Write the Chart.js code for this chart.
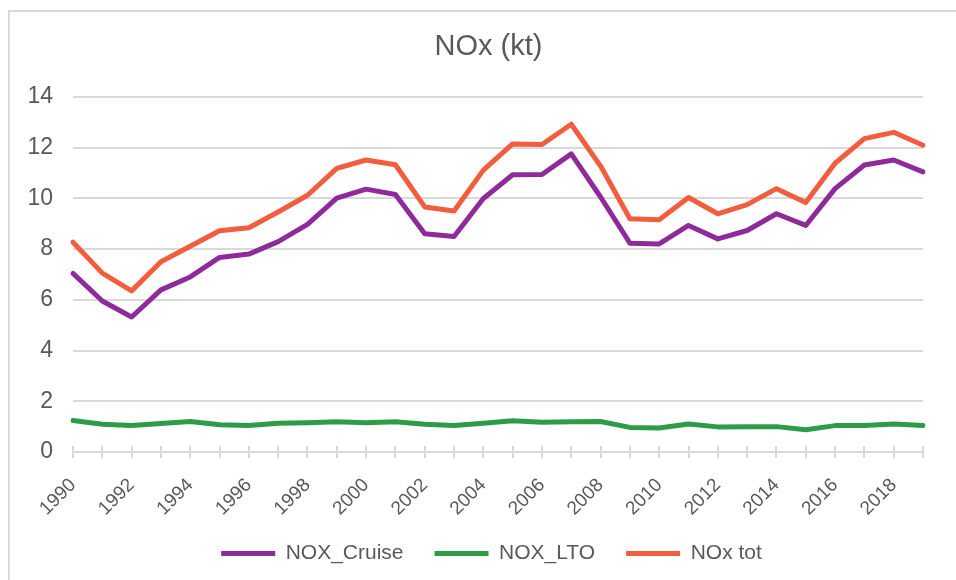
<!DOCTYPE html>
<html>
<head>
<meta charset="utf-8">
<title>NOx (kt)</title>
<script src="https://cdn.jsdelivr.net/npm/chart.js@4.4.1/dist/chart.umd.min.js"></script>
<style>
    html, body { margin: 0; padding: 0; background: #fff; }
    #wrap { position: relative; width: 956px; height: 580px; overflow: hidden; }
    #frame {
        position: absolute; left: 8px; top: 10px; width: 1000px; height: 1000px;
        border-top: 2px solid #d9d9d9; border-left: 2px solid #d9d9d9;
        box-sizing: border-box; pointer-events: none;
    }
    #emissions { position: absolute; left: 0; top: 0; }
</style>
</head>
<body>
<div id="wrap">
    <div id="frame"></div>
    <canvas id="emissions" width="956" height="580"></canvas>
</div>
<script>
    // Yearly series, kt
    const years = [];
    for (let y = 1990; y <= 2019; y++) years.push(String(y));

    const noxCruise = [7.04, 5.95, 5.32, 6.39, 6.90, 7.67, 7.80, 8.29, 8.97, 10.01,
                       10.36, 10.15, 8.60, 8.49, 9.99, 10.93, 10.94, 11.75, 10.05, 8.23,
                       8.20, 8.93, 8.40, 8.73, 9.39, 8.93, 10.38, 11.31, 11.51, 11.04];
    const noxLTO = [1.24, 1.09, 1.04, 1.12, 1.20, 1.07, 1.04, 1.13, 1.15, 1.19,
                    1.15, 1.19, 1.09, 1.04, 1.13, 1.23, 1.17, 1.19, 1.20, 0.97,
                    0.95, 1.10, 0.99, 1.00, 1.00, 0.88, 1.04, 1.04, 1.10, 1.04];
    const noxTotal = [8.27, 7.05, 6.35, 7.50, 8.11, 8.72, 8.84, 9.46, 10.12, 11.18,
                      11.51, 11.32, 9.66, 9.50, 11.11, 12.14, 12.12, 12.92, 11.27, 9.19,
                      9.15, 10.03, 9.39, 9.75, 10.38, 9.83, 11.38, 12.35, 12.60, 12.09];

    const yTicks = [0, 2, 4, 6, 8, 10, 12, 14];

    const FONT = "'Liberation Sans', Arial, sans-serif";
    const TEXT = '#595959';
    const GRID = '#d9d9d9';

    // Excel-style tick marks that cross the category axis (upper half; Chart.js draws the lower half)
    const crossTicks = {
        id: 'crossTicks',
        beforeDatasetsDraw(chart) {
            const x = chart.scales.x;
            const ctx = chart.ctx;
            const bottom = chart.chartArea.bottom;
            ctx.save();
            ctx.strokeStyle = GRID;
            ctx.lineWidth = 2;
            ctx.beginPath();
            for (let i = 0; i < years.length; i++) {
                const px = Math.round(x.getPixelForTick(i));
                ctx.moveTo(px, bottom - 6);
                ctx.lineTo(px, bottom);
            }
            ctx.stroke();
            ctx.restore();
        }
    };

    // Excel centres title and legend on the whole chart box, not the plot; nudge them over,
    // and pull the legend up into the x-axis box so rotated labels are not clipped
    const shiftBlocks = {
        id: 'shiftBlocks',
        afterLayout(chart) {
            const moves = [[chart.titleBlock, 27, 0], [chart.legend, 30, -10]];
            moves.forEach(([box, dx, dy]) => {
                if (!box) return;
                box.left += dx;
                box.right += dx;
                box.top += dy;
                box.bottom += dy;
            });
        }
    };

    function series(label, data, color) {
        return {
            label: label,
            data: data,
            borderColor: color,
            backgroundColor: color,
            borderWidth: 5,
            borderCapStyle: 'round',
            borderJoinStyle: 'round',
            pointRadius: 0,
            pointHoverRadius: 0,
            tension: 0,
            fill: false
        };
    }

    new Chart(document.getElementById('emissions').getContext('2d'), {
        type: 'line',
        data: {
            labels: years,
            datasets: [
                series('NOX_Cruise', noxCruise, '#8e2a99'),
                series('NOX_LTO', noxLTO, '#2e9c46'),
                series('NOx tot', noxTotal, '#f15d3d')
            ]
        },
        options: {
            responsive: false,
            animation: false,
            devicePixelRatio: 1,
            layout: { padding: { left: 0, right: 33, top: 0, bottom: -4 } },
            plugins: {
                title: {
                    display: true,
                    text: 'NOx (kt)',
                    color: TEXT,
                    font: { family: FONT, size: 29, weight: 'normal', lineHeight: 1.2 },
                    padding: { top: 30, bottom: 32 }
                },
                legend: {
                    position: 'bottom',
                    labels: {
                        usePointStyle: true,
                        pointStyle: 'line',
                        pointStyleWidth: 54,
                        padding: 31,
                        color: TEXT,
                        font: { family: FONT, size: 21 }
                    }
                },
                tooltip: { enabled: false }
            },
            scales: {
                x: {
                    offset: false,
                    afterFit: function(scale) { scale.height = 70; },
                    grid: {
                        drawOnChartArea: false,
                        drawTicks: true,
                        tickLength: 6,
                        color: GRID,
                        lineWidth: 2
                    },
                    border: { display: true, color: GRID, width: 2 },
                    ticks: {
                        autoSkip: false,
                        minRotation: 45,
                        maxRotation: 45,
                        padding: 16,
                        color: TEXT,
                        font: { family: FONT, size: 19 },
                        callback: function(value, index) {
                            return index % 2 === 0 ? years[index] : '';
                        }
                    }
                },
                y: {
                    min: yTicks[0],
                    max: yTicks[yTicks.length - 1],
                    afterFit: function(scale) { scale.width = 73; },
                    afterBuildTicks: function(scale) {
                        scale.ticks = yTicks.map(v => ({ value: v }));
                    },
                    grid: { color: GRID, lineWidth: 2, drawTicks: false },
                    border: { display: false },
                    ticks: {
                        padding: 20,
                        color: TEXT,
                        font: { family: FONT, size: 23 }
                    }
                }
            }
        },
        plugins: [crossTicks, shiftBlocks]
    });
</script>
</body>
</html>
